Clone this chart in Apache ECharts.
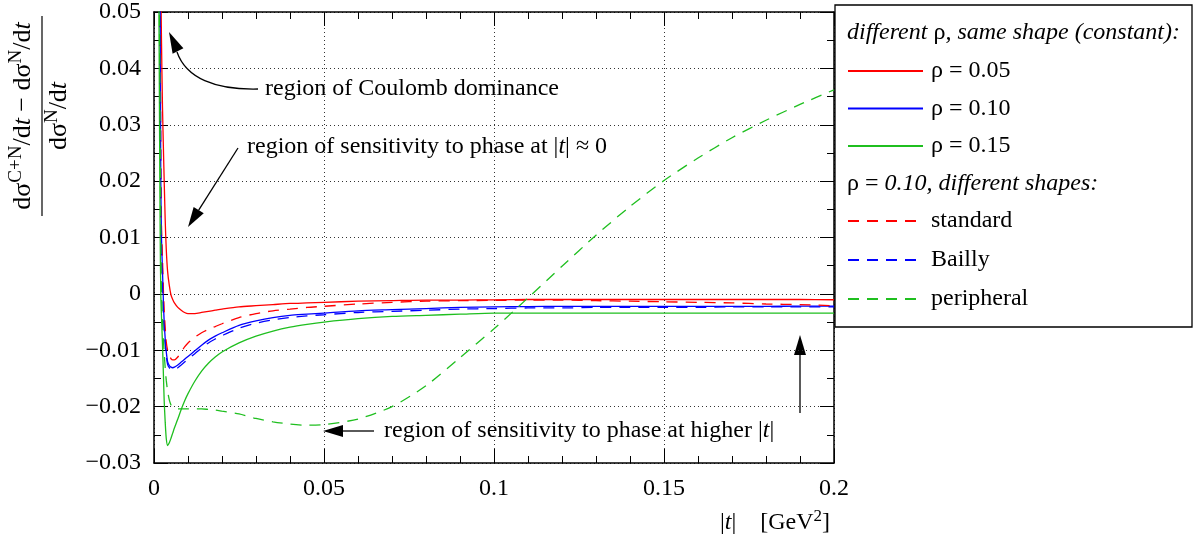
<!DOCTYPE html>
<html>
<head>
<meta charset="utf-8">
<script src="https://cdn.jsdelivr.net/npm/echarts@6/dist/echarts.min.js"></script>
<style>
  html, body { margin: 0; padding: 0; background: #fff; }
  #chart { width: 1195px; height: 543px; }
</style>
</head>
<body>
<div id="chart"></div>
<script>
  // |t| in GeV^2
  const tValues = [0.0012, 0.0015, 0.0018, 0.002, 0.0022, 0.0025, 0.0028, 0.003, 0.0033, 0.0036,
    0.004, 0.0045, 0.005, 0.0055, 0.006, 0.007, 0.008, 0.009, 0.010, 0.012,
    0.014, 0.016, 0.018, 0.020, 0.025, 0.030, 0.035, 0.040, 0.045, 0.050,
    0.060, 0.070, 0.080, 0.090, 0.100, 0.110, 0.120, 0.130, 0.140, 0.150,
    0.160, 0.170, 0.180, 0.190, 0.200];

  // different rho, constant shape
  const rho005 = [0.15, 0.10, 0.07, 0.056, 0.045, 0.033, 0.025, 0.020, 0.013, 0.008,
    0.0040, 0.0015, -0.0002, -0.0010, -0.0016, -0.0024, -0.0029, -0.0033, -0.0035, -0.0035,
    -0.0033, -0.0031, -0.0029, -0.0027, -0.0023, -0.0021, -0.0019, -0.0017, -0.0016, -0.0015,
    -0.0013, -0.0012, -0.0011, -0.0011, -0.00105, -0.0010, -0.0010, -0.0010, -0.0010, -0.0010,
    -0.0010, -0.0010, -0.0010, -0.0010, -0.00104];
  const rho010 = [0.12, 0.09, 0.052, 0.020, 0.010, 0.004, -0.002, -0.005, -0.0080, -0.0102,
    -0.0120, -0.0127, -0.0130, -0.0131, -0.0130, -0.0126, -0.0121, -0.0116, -0.0111, -0.0101,
    -0.0091, -0.0082, -0.0075, -0.0069, -0.0056, -0.0048, -0.0042, -0.0038, -0.0036, -0.0034,
    -0.0030, -0.0028, -0.0026, -0.0024, -0.0023, -0.00225, -0.0022, -0.0022, -0.0022, -0.0022,
    -0.0022, -0.0022, -0.0022, -0.00218, -0.00216];
  const rho015 = [0.09, 0.045, 0.012, 0.0, -0.004, -0.009, -0.015, -0.019, -0.0228, -0.0256,
    -0.0269, -0.0264, -0.0256, -0.0247, -0.0238, -0.0222, -0.0205, -0.0190, -0.0177, -0.0155,
    -0.0137, -0.0123, -0.0112, -0.0103, -0.0087, -0.0075, -0.0066, -0.0059, -0.0054, -0.0050,
    -0.0044, -0.0040, -0.0038, -0.0036, -0.0034, -0.0034, -0.0034, -0.0034, -0.0034, -0.0034,
    -0.0034, -0.0034, -0.0034, -0.0034, -0.0034];

  // rho = 0.10, different shapes
  const standardShape = [0.12, 0.08, 0.052, 0.022, 0.012, 0.006, 0.000, -0.003, -0.006, -0.0085,
    -0.0100, -0.0110, -0.0115, -0.0117, -0.0117, -0.0112, -0.0103, -0.0094, -0.0087, -0.0077,
    -0.0069, -0.0063, -0.0058, -0.0053, -0.0042, -0.0035, -0.0030, -0.0027, -0.0024, -0.0022,
    -0.0018, -0.0015, -0.0013, -0.0012, -0.00115, -0.0011, -0.0011, -0.0012, -0.0013, -0.0014,
    -0.0015, -0.0016, -0.0018, -0.0019, -0.0021];
  const baillyShape = [0.12, 0.09, 0.050, 0.018, 0.008, 0.002, -0.004, -0.0065, -0.0090, -0.0110,
    -0.0125, -0.0131, -0.0134, -0.0135, -0.0134, -0.0131, -0.0126, -0.0121, -0.0116, -0.0106,
    -0.0096, -0.0087, -0.0080, -0.0074, -0.0061, -0.0052, -0.0046, -0.0042, -0.0039, -0.0037,
    -0.0033, -0.0031, -0.0029, -0.0027, -0.0026, -0.0025, -0.0025, -0.0024, -0.0024, -0.0024,
    -0.0024, -0.0023, -0.0023, -0.0023, -0.0023];
  const peripheralShape = [0.10, 0.06, 0.030, 0.010, 0.000, -0.0045, -0.0085, -0.0105, -0.0132, -0.0153,
    -0.0172, -0.0188, -0.0197, -0.0201, -0.0203, -0.0204, -0.0204, -0.0204, -0.0204, -0.0204,
    -0.0204, -0.0205, -0.0206, -0.0208, -0.0213, -0.0221, -0.0227, -0.0231, -0.0233, -0.0232,
    -0.0222, -0.0200, -0.0163, -0.0113, -0.0062, -0.0007, 0.0049, 0.0104, 0.0155, 0.0201,
    0.0241, 0.0277, 0.0308, 0.0336, 0.0362];

  const FONT = '"Liberation Serif", "DejaVu Serif", serif';
  const FS = 24;
  const RED = '#ff0000', BLUE = '#0000ff', GREEN = '#1fbf1f';
  const DASH = [11, 8];

  const pairs = ys => tValues.map((t, i) => [t, ys[i]]);

  function makeSeries(name, values, color, dashed) {
    return {
      name: name,
      type: 'line',
      data: pairs(values),
      symbol: 'none',
      showSymbol: false,
      clip: true,
      smooth: 0.25,
      lineStyle: { color: color, width: 1.3, type: dashed ? DASH : 'solid' },
      itemStyle: { color: color },
      emphasis: { disabled: true }
    };
  }

  // arrow helper for the annotations
  function arrow(x1, y1, x2, y2) {
    const len = Math.hypot(x2 - x1, y2 - y1), ux = (x2 - x1) / len, uy = (y2 - y1) / len;
    const hl = 20, hw = 6;
    const bx = x2 - ux * hl, by = y2 - uy * hl;
    return [
      { type: 'line', shape: { x1: x1, y1: y1, x2: bx, y2: by }, style: { stroke: '#000', lineWidth: 1.3 } },
      { type: 'polygon', shape: { points: [[x2, y2], [bx - uy * hw, by + ux * hw], [bx + uy * hw, by - ux * hw]] },
        style: { fill: '#000' } }
    ];
  }

  const richText = {
    n: { fontFamily: FONT, fontSize: FS, color: '#000' },
    i: { fontFamily: FONT, fontSize: FS, color: '#000', fontStyle: 'italic' }
  };
  const fracRich = {
    n: { fontFamily: FONT, fontSize: 26, color: '#000', lineHeight: 32 },
    i: { fontFamily: FONT, fontSize: 26, color: '#000', fontStyle: 'italic', lineHeight: 32 },
    s: { fontFamily: FONT, fontSize: 19, color: '#000', lineHeight: 19, verticalAlign: 'top' }
  };

  function label(x, y, text) {
    return { type: 'text', x: x, y: y, style: { text: text, rich: richText, verticalAlign: 'middle', fill: '#000' } };
  }

  const chart = echarts.init(document.getElementById('chart'));

  const axisTick = { show: true, inside: true, length: 14, lineStyle: { color: '#000', width: 1 } };
  const xMinor = { show: true, splitNumber: 5, length: 7, lineStyle: { color: '#000', width: 1 } };
  const yMinor = { show: true, splitNumber: 2, length: 7, lineStyle: { color: '#000', width: 1 } };
  const axisLine = { show: true, onZero: false, lineStyle: { color: '#000', width: 1.5 } };
  const gridDots = { show: true, lineStyle: { color: '#333', width: 1, type: [1, 3] } };

  const curveArrow = [
    { type: 'bezierCurve', shape: { x1: 258, y1: 89, cpx1: 215, cpy1: 90, cpx2: 186, cpy2: 78, x2: 177, y2: 52 },
      style: { stroke: '#000', lineWidth: 1.3, fill: null } },
    { type: 'polygon', shape: { points: [[169, 32], [183.4, 48.3], [172.6, 53.7]] }, style: { fill: '#000' } }
  ];

  const legendText = { fontFamily: FONT, fontSize: FS, color: '#000', lineHeight: 24, padding: [0, 0, 0, 3] };

  const option = {
    animation: false,
    backgroundColor: '#fff',
    grid: { left: 154, right: 361, top: 5, bottom: 80, containLabel: false },
    xAxis: [
      {
        type: 'value', min: 0, max: 0.2, interval: 0.05, position: 'bottom',
        axisLine: axisLine, axisTick: axisTick, minorTick: xMinor,
        splitLine: gridDots,
        axisLabel: { fontFamily: FONT, fontSize: FS, color: '#000', margin: 14,
          formatter: v => String(+v.toFixed(2)) }
      },
      {
        type: 'value', min: 0, max: 0.2, interval: 0.05, position: 'top',
        axisLine: axisLine, axisTick: axisTick, minorTick: xMinor,
        splitLine: { show: false }, axisLabel: { show: false }
      }
    ],
    yAxis: [
      {
        type: 'value', min: -0.03, max: 0.05, interval: 0.01, position: 'left',
        axisLine: axisLine, axisTick: axisTick, minorTick: yMinor,
        splitLine: gridDots,
        axisLabel: { fontFamily: FONT, fontSize: FS, color: '#000', margin: 13,
          formatter: v => {
            if (Math.abs(v) < 1e-9) return '0';
            const s = String(+Math.abs(v).toFixed(2));
            return v < 0 ? '\u2212' + s : s;
          } }
      },
      {
        type: 'value', min: -0.03, max: 0.05, interval: 0.01, position: 'right',
        axisLine: axisLine, axisTick: axisTick, minorTick: yMinor,
        splitLine: { show: false }, axisLabel: { show: false }
      }
    ],
    legend: [
      {
        data: ['ρ = 0.05', 'ρ = 0.10', 'ρ = 0.15'],
        orient: 'vertical', left: 847, top: 59, padding: 0,
        itemWidth: 75, itemHeight: 24, itemGap: 13.5, selectedMode: false,
        itemStyle: { opacity: 0 },
        textStyle: legendText
      },
      {
        data: ['standard', 'Bailly', 'peripheral'],
        orient: 'vertical', left: 847, top: 209, padding: 0,
        itemWidth: 75, itemHeight: 24, itemGap: 15, selectedMode: false,
        itemStyle: { opacity: 0 },
        textStyle: legendText
      }
    ],
    graphic: [
      // legend frame and headings
      { type: 'rect', z: 1, shape: { x: 835, y: 5, width: 357, height: 322 },
        style: { fill: '#fff', stroke: '#000', lineWidth: 1.3 } },
      { type: 'text', z: 5, x: 847, y: 33,
        style: { text: '{i|different }{n|ρ}{i|, same shape (constant):}', rich: richText, verticalAlign: 'middle' } },
      { type: 'text', z: 5, x: 847, y: 184,
        style: { text: '{n|ρ = }{i|0.10, different shapes:}', rich: richText, verticalAlign: 'middle' } },

      // annotations
      label(265, 89, '{n|region of Coulomb dominance}'),
      label(247, 147, '{n|region of sensitivity to phase at |}{i|t}{n|| ≈ 0}'),
      label(384, 431, '{n|region of sensitivity to phase at higher |}{i|t}{n||}'),
      ...curveArrow,
      ...arrow(238, 148, 188, 227),
      ...arrow(374, 431, 323, 431),
      ...arrow(800, 413, 800, 335),

      // x axis title
      { type: 'text', x: 830, y: 523,
        style: {
          text: '{n||}{i|t}{n||    [GeV}{s|2}{n|]}',
          rich: {
            n: { fontFamily: FONT, fontSize: FS, color: '#000', lineHeight: 30 },
            i: { fontFamily: FONT, fontSize: FS, color: '#000', fontStyle: 'italic', lineHeight: 30 },
            s: { fontFamily: FONT, fontSize: 17, color: '#000', lineHeight: 17, verticalAlign: 'top' }
          },
          align: 'right', verticalAlign: 'middle'
        } },

      // y axis title (fraction, rotated)
      {
        type: 'group', x: 42, y: 116, rotation: Math.PI / 2,
        children: [
          { type: 'text', x: 0, y: -19,
            style: { text: '{n|dσ}{s|C+N}{n|/d}{i|t}{n| − dσ}{s|N}{n|/d}{i|t}', rich: fracRich,
              align: 'center', verticalAlign: 'middle' } },
          { type: 'line', shape: { x1: -100, y1: 0, x2: 100, y2: 0 }, style: { stroke: '#000', lineWidth: 1.2 } },
          { type: 'text', x: 0, y: 17,
            style: { text: '{n|dσ}{s|N}{n|/d}{i|t}', rich: fracRich,
              align: 'center', verticalAlign: 'middle' } }
        ]
      }
    ],
    series: [
      makeSeries('ρ = 0.05', rho005, RED, false),
      makeSeries('ρ = 0.10', rho010, BLUE, false),
      makeSeries('ρ = 0.15', rho015, GREEN, false),
      makeSeries('standard', standardShape, RED, true),
      makeSeries('Bailly', baillyShape, BLUE, true),
      makeSeries('peripheral', peripheralShape, GREEN, true)
    ]
  };

  chart.setOption(option);
</script>
</body>
</html>
